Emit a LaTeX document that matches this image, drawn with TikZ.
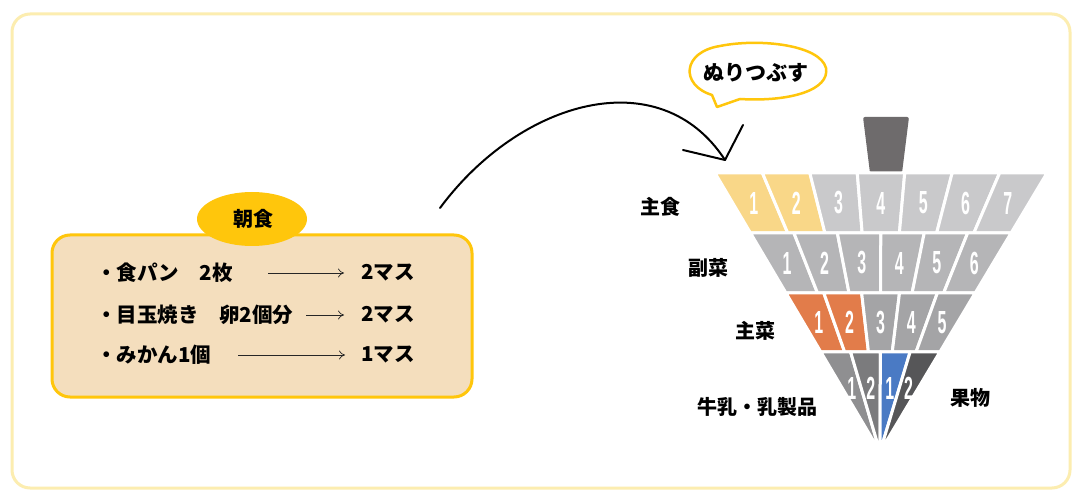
\documentclass[tikz,border=0pt]{standalone}
\usepackage{fontspec}
\usetikzlibrary{shapes.geometric,arrows.meta}
\newfontfamily\jp{Noto Sans CJK JP}
\newfontfamily\numf{Liberation Sans}
\definecolor{frameY}{HTML}{FCEDB0}
\definecolor{boxF}{HTML}{F4DEBD}
\definecolor{gold}{HTML}{FFC60C}
\definecolor{cY}{HTML}{F9D788}
\definecolor{cG1}{HTML}{C9C9CB}
\definecolor{cG2}{HTML}{B5B5B7}
\definecolor{cO}{HTML}{E27C4A}
\definecolor{cG3}{HTML}{A4A4A6}
\definecolor{cG4}{HTML}{8F8F91}
\definecolor{cG5}{HTML}{7B7B7D}
\definecolor{cB}{HTML}{4A7AC4}
\definecolor{cG6}{HTML}{565658}
\definecolor{stem}{HTML}{6E6B6C}
\newcommand\komarow[5]{%
 \pgfmathsetmacro\tl{715+(#1-173)*0.5914}%
 \pgfmathsetmacro\tr{1047-(#1-173)*0.5986}%
 \pgfmathsetmacro\bl{715+(#2-173)*0.5914}%
 \pgfmathsetmacro\br{1047-(#2-173)*0.5986}%
 \pgfmathsetmacro\ym{#1+#5*(#2-#1)}%
 \pgfmathsetmacro\ml{715+(\ym-173)*0.5914}%
 \pgfmathsetmacro\mr{1047-(\ym-173)*0.5986}%
 \foreach \c/\l [count=\i from 0] in {#4} {%
   \pgfmathsetmacro\xa{\tl+\i*(\tr-\tl)/#3}%
   \pgfmathsetmacro\xb{\tl+(\i+1)*(\tr-\tl)/#3}%
   \pgfmathsetmacro\xc{\bl+(\i+1)*(\br-\bl)/#3}%
   \pgfmathsetmacro\xd{\bl+\i*(\br-\bl)/#3}%
   \pgfmathsetmacro\xm{\ml+(\i+0.5)*(\mr-\ml)/#3}%
   \filldraw[fill=\c,draw=white,line width=3pt,line join=round] (\xa,-#1)--(\xb,-#1)--(\xc,-#2)--(\xd,-#2)--cycle;
   \node[num] at (\xm,-\ym) {\l};
 }}
\begin{document}
\begin{tikzpicture}[x=1pt,y=1pt,
  lab/.style={font=\jp\bfseries\fontsize{20}{20}\selectfont,inner sep=0pt},
  txt/.style={font=\jp\bfseries\fontsize{20.5}{20.5}\selectfont,anchor=west,inner sep=0pt},
  num/.style={font=\numf\bfseries\fontsize{32}{32}\selectfont,text=white,xscale=0.5,inner sep=0pt},
  arr/.style={draw=black!85,line width=0.7pt,-{To[length=6pt,width=9pt]}}]
\useasboundingbox (0,0) rectangle (1092,-502);
\fill[white] (0,0) rectangle (1092,-502);
\draw[frameY,line width=3pt,rounded corners=18pt] (12,-14) rectangle (1070,-488);
% breakfast box
\draw[gold,fill=boxF,line width=3pt,rounded corners=18pt] (52,-235) rectangle (472,-397);
\node[ellipse,fill=gold,minimum width=110pt,minimum height=54pt,inner sep=0pt] (title) at (252,-219) {};
\node[lab] (titlet) at (253,-219) {朝食};
\node[txt] (t1) at (96,-273) {・食パン　2枚};
\node[txt] (t2) at (96,-315) {・目玉焼き　卵2個分};
\node[txt] (t3) at (96,-355) {・みかん1個};
\node[txt] (m1) at (361,-273) {2マス};
\node[txt] (m2) at (361,-315) {2マス};
\node[txt] (m3) at (361,-355) {1マス};
\coordinate (a1s) at (268,-273); \coordinate (a1e) at (344,-273);
\coordinate (a2s) at (306,-315); \coordinate (a2e) at (344,-315);
\coordinate (a3s) at (238,-355); \coordinate (a3e) at (345,-355);
\draw[arr] (a1s)--(a1e);
\draw[arr] (a2s)--(a2e);
\draw[arr] (a3s)--(a3e);
% curved arrow
\coordinate (cs) at (440,-208);
\coordinate (ce) at (725,-160);
\coordinate (h1) at (683,-150);
\coordinate (h2) at (743,-125);
\draw[line width=2pt,line cap=round] (cs) .. controls (520,-100) and (660,-60) .. (ce);
\draw[line width=2pt,line cap=round,line join=round] (h1)--(ce)--(h2);
% speech bubble
\draw[gold,fill=white,line width=2.5pt,line join=round]
  (712,-95) .. controls (680,-85) and (682,-52) .. (720,-46)
  .. controls (760,-38) and (820,-45) .. (826,-68)
  .. controls (830,-90) and (790,-102) .. (740,-99)
  -- (717,-107) -- cycle;
\node[font=\jp\bfseries\fontsize{21}{21}\selectfont,inner sep=0pt] (bub) at (756,-73) {ぬりつぶす};
% stem
\fill[stem,rounded corners=2pt] (863,-117)--(909,-117)--(902,-173)--(870,-173)--cycle;
% koma rows
\komarow{173}{233}{7}{cY/1,cY/2,cG1/3,cG1/4,cG1/5,cG1/6,cG1/7}{0.5}
\komarow{233}{293}{6}{cG2/1,cG2/2,cG2/3,cG2/4,cG2/5,cG2/6}{0.5}
\komarow{293}{352}{5}{cO/1,cO/2,cG3/3,cG3/4,cG3/5}{0.5}
\komarow{352}{453}{4}{cG4/1,cG5/2,cB/1,cG6/2}{0.36}
% labels
\node[lab] (l1) at (660,-207) {主食};
\node[lab] (l2) at (708,-268) {副菜};
\node[lab] (l3) at (755,-331) {主菜};
\node[lab] (l4) at (757,-407) {牛乳・乳製品};
\node[lab] (l5) at (970,-398) {果物};
\end{tikzpicture}
\end{document}
